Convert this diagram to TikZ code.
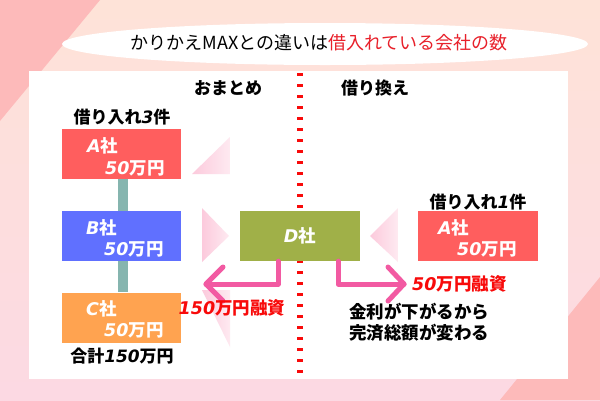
\documentclass[tikz,border=0pt]{standalone}
\usepackage{fontspec}
\setmainfont{Noto Sans CJK JP}
\newfontfamily\latf{DejaVu Sans}
\newcommand\LB[1]{{\latf\bfseries\itshape #1}}
\definecolor{bgtop}{HTML}{FEE3D8}
\definecolor{bgbot}{HTML}{FCD9E3}
\definecolor{darkbg}{HTML}{FDBABA}
\definecolor{titred}{HTML}{E8202A}
\definecolor{txtred}{HTML}{F80A0A}
\definecolor{boxA}{HTML}{FF5E5E}
\definecolor{boxB}{HTML}{6070FF}
\definecolor{boxC}{HTML}{FFA350}
\definecolor{boxD}{HTML}{A0B048}
\definecolor{barc}{HTML}{86B5AF}
\definecolor{arrc}{HTML}{F25AA2}
\definecolor{tripink}{HTML}{FCCADC}
\tikzset{
  box/.style={draw=none, minimum width=119pt, minimum height=50pt, inner sep=0pt},
  boxtxt/.style={text=white, font=\fontsize{17.5}{18}\selectfont\bfseries, inner sep=0pt, anchor=west},
  hdr/.style={font=\fontsize{17}{17}\selectfont\bfseries, inner sep=0pt},
  redtxt/.style={text=txtred, font=\fontsize{17.5}{18}\selectfont\bfseries, inner sep=0pt},
  bar/.style={draw=barc, line width=10pt},
  parr/.style={draw=arrc, line width=5pt, line cap=round, line join=round},
  tri/.style={left color=tripink, right color=tripink!40!white}
}
\begin{document}
\begin{tikzpicture}[x=1pt,y=-1pt]
\useasboundingbox (0,0) rectangle (600,400);
% background
\shade[top color=bgtop, bottom color=bgbot] (0,0) rectangle (600,400);
\fill[darkbg] (0,0) -- (100,0) -- (0,121) -- cycle;
\fill[darkbg] (600,277) -- (600,400) -- (500,400) -- cycle;
% panel
\fill[white] (29,71) rectangle (568,379);
% title
\fill[white] (325,44) ellipse [x radius=263pt, y radius=21pt];
\node[inner sep=0pt, font=\fontsize{18}{18}\selectfont] (title) at (319,43)
  {かりかえMAXとの違いは\textcolor{titred}{借入れている会社の数}};
% headers
\node[hdr] (h1) at (228,88) {おまとめ};
\node[hdr] (h2) at (375,88) {借り換え};
% dashed divider
\coordinate (dtop) at (300,73);
\coordinate (dbot) at (300,379);
\draw[txtred, line width=6pt, dash pattern=on 3pt off 8pt] (dtop) -- (dbot);
% pale triangles
\shade[tri] (192,174) -- (230,137) -- (230,174) -- cycle;
\shade[tri] (202,208) -- (229,236) -- (202,262) -- cycle;
\shade[tri] (202,290) -- (230,290) -- (230,347) -- cycle;
\shade[tri] (370,236) -- (398,208) -- (398,262) -- cycle;
% left column
\node[hdr] (k3) at (122,117) {借り入れ\LB{3}件};
\node[box, fill=boxA] (A) at (121.5,153.5) {};
\node[box, fill=boxB] (B) at (121.5,236) {};
\node[box, fill=boxC] (C) at (121.5,317.5) {};
\draw[bar] ([xshift=1.5pt]A.south) -- ([xshift=1.5pt]B.north);
\draw[bar] ([xshift=1.5pt]B.south) -- ([xshift=1.5pt]C.north);
\node[boxtxt] (A1) at (87,146) {\LB{A}社};
\node[boxtxt] (A2) at (105,168) {\LB{50}万円};
\node[boxtxt] (B1) at (86,228) {\LB{B}社};
\node[boxtxt] (B2) at (104,249) {\LB{50}万円};
\node[boxtxt] (C1) at (86,309) {\LB{C}社};
\node[boxtxt] (C2) at (104,330) {\LB{50}万円};
\node[hdr] (tot) at (122,356) {合計\LB{150}万円};
% center
\node[box, fill=boxD, minimum width=120pt] (D) at (300,236) {};
\node[boxtxt, anchor=center] (D1) at (300,236) {\LB{D}社};
\coordinate (lt) at (206,284);
\coordinate (rt) at (404,284);
\draw[parr] ([xshift=-22pt]D.south) |- (lt);
\draw[parr] ([shift={(17,-17)}]lt) -- (lt) -- ([shift={(17,17)}]lt);
\draw[parr] ([xshift=38pt]D.south) |- (rt);
\draw[parr] ([shift={(-16,-17)}]rt) -- (rt) -- ([shift={(-16,17)}]rt);
\node[redtxt] (m150) at (232,308) {\LB{150}万円融資};
\node[redtxt, anchor=west] (m50) at (412,284) {\LB{50}万円融資};
\node[inner sep=0pt, anchor=west, align=left, font=\fontsize{17.5}{21}\selectfont\bfseries] (note) at (349,322.5)
  {金利が下がるから\\完済総額が変わる};
% right column
\node[hdr] (k1) at (478,202) {借り入れ\LB{1}件};
\node[box, fill=boxA, minimum width=120pt] (RA) at (478,236) {};
\node[boxtxt] (RA1) at (438,228) {\LB{A}社};
\node[boxtxt] (RA2) at (457,249) {\LB{50}万円};
\end{tikzpicture}
\end{document}
